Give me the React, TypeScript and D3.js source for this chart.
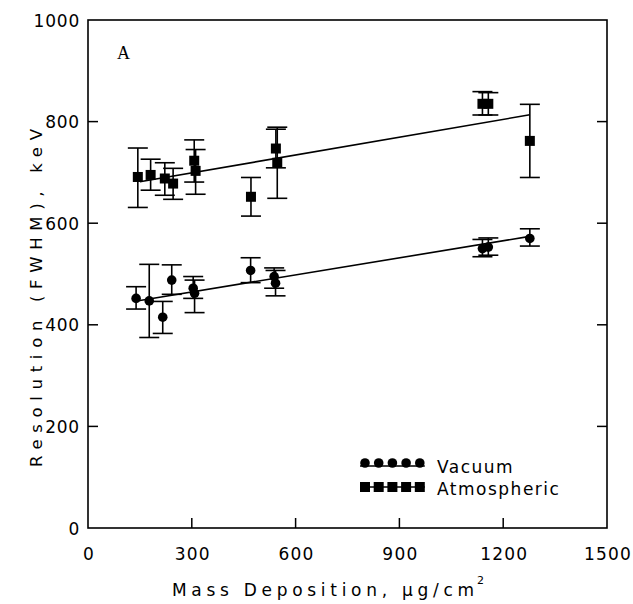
import React from "react";
import * as d3 from "d3";

// ---- data ----
// Vacuum series: mass deposition (µg/cm²), resolution (keV), error low, error high
const vacuumX = [139, 177, 216, 242, 304, 308, 470, 538, 542, 1140, 1157, 1277];
const vacuumY = [452, 447, 415, 488, 472, 462, 507, 495, 482, 550, 553, 570];
const vacuumLo = [431, 375, 383, 460, 452, 424, 483, 472, 457, 534, 537, 555];
const vacuumHi = [475, 519, 446, 518, 495, 488, 532, 512, 507, 568, 571, 589];

// Atmospheric series
const atmosX = [144, 181, 222, 246, 307, 311, 471, 543, 547, 1140, 1157, 1277];
const atmosY = [691, 695, 688, 678, 723, 703, 652, 747, 719, 835, 835, 762];
const atmosLo = [631, 665, 655, 647, 681, 657, 614, 709, 649, 813, 813, 690];
const atmosHi = [748, 726, 719, 708, 764, 745, 690, 785, 789, 859, 857, 834];

// Linear fits: [x start, x end], intercept, slope
const vacuumFitRange = [150, 1277];
const vacuumFitIntercept = 431;
const vacuumFitSlope = 0.112;
const atmosFitRange = [150, 1277];
const atmosFitIntercept = 664;
const atmosFitSlope = 0.117;

const xTicks = [0, 300, 600, 900, 1200, 1500];
const yTicks = [0, 200, 400, 600, 800, 1000];

const legendLabels = ["Vacuum", "Atmospheric"];

export default function App() {
  const W = 633;
  const H = 604;
  const left = 88, right = 607, top = 20, bottom = 528;
  const x = d3.scaleLinear().domain([0, 1500]).range([left, right]);
  const y = d3.scaleLinear().domain([0, 1000]).range([bottom, top]);
  const font = "'DejaVu Sans', 'Liberation Sans', sans-serif";
  const tickLen = 10;
  const capHalf = 10;
  const line = d3.line<[number, number]>().x((d) => x(d[0])).y((d) => y(d[1]));

  const fitPts = (range: number[], b: number, m: number): [number, number][] =>
    range.map((v) => [v, b + m * v] as [number, number]);

  const errBars = (xs: number[], lo: number[], hi: number[], key: string) =>
    xs.map((xv, i) => (
      <g key={key + i} stroke="#000" strokeWidth={1.6}>
        <line x1={x(xv)} x2={x(xv)} y1={y(lo[i])} y2={y(hi[i])} />
        <line x1={x(xv) - capHalf} x2={x(xv) + capHalf} y1={y(lo[i])} y2={y(lo[i])} />
        <line x1={x(xv) - capHalf} x2={x(xv) + capHalf} y1={y(hi[i])} y2={y(hi[i])} />
      </g>
    ));

  const legendX0 = 365;
  const legendStep = 13.7;
  const markerIdx = [0, 1, 2, 3, 4];

  return (
    <svg
      width={W}
      height={H}
      style={{ position: "absolute", left: 0, top: 0, background: "#fff" }}
    >
      <rect x={0} y={0} width={W} height={H} fill="#fff" />
      {/* frame */}
      <rect
        x={left}
        y={top}
        width={right - left}
        height={bottom - top}
        fill="none"
        stroke="#000"
        strokeWidth={1.6}
      />
      {/* y ticks (left and right, inward) */}
      {yTicks.map((t) => (
        <g key={"yt" + t}>
          {t > 0 && t < 1000 && (
            <>
              <line x1={left} x2={left + tickLen} y1={y(t)} y2={y(t)} stroke="#000" strokeWidth={1.5} />
              <line x1={right} x2={right - tickLen} y1={y(t)} y2={y(t)} stroke="#000" strokeWidth={1.5} />
            </>
          )}
          <text
            x={80}
            y={y(t) + 6.5}
            textAnchor="end"
            fontFamily={font}
            fontSize={17}
            letterSpacing={0.8}
            fill="#000"
          >
            {t}
          </text>
        </g>
      ))}
      {/* x ticks (bottom, inward) */}
      {xTicks.map((t) => (
        <g key={"xt" + t}>
          {t > 0 && t < 1500 && (
            <line x1={x(t)} x2={x(t)} y1={bottom} y2={bottom - tickLen} stroke="#000" strokeWidth={1.5} />
          )}
          <text
            x={x(t) + 1}
            y={560}
            textAnchor="middle"
            fontFamily={font}
            fontSize={17}
            letterSpacing={1.2}
            fill="#000"
          >
            {t}
          </text>
        </g>
      ))}
      {/* axis titles */}
      <text
        x={172}
        y={596}
        fontFamily={font}
        fontSize={17}
        textLength={302}
        lengthAdjust="spacing"
        fill="#000"
      >
        Mass Deposition, μg/cm
      </text>
      <text x={477} y={584} fontFamily={font} fontSize={11} fill="#000">
        2
      </text>
      <text
        transform="translate(42,298) rotate(-90)"
        textAnchor="middle"
        fontFamily={font}
        fontSize={16.5}
        textLength={338}
        lengthAdjust="spacing"
        fill="#000"
      >
        Resolution (FWHM), keV
      </text>
      <text x={117} y={59} fontFamily="'Liberation Serif', 'Times New Roman', serif" fontSize={18} fill="#000">
        A
      </text>

      {/* fit lines */}
      <path
        d={line(fitPts(vacuumFitRange, vacuumFitIntercept, vacuumFitSlope)) || ""}
        fill="none"
        stroke="#000"
        strokeWidth={1.6}
      />
      <path
        d={line(fitPts(atmosFitRange, atmosFitIntercept, atmosFitSlope)) || ""}
        fill="none"
        stroke="#000"
        strokeWidth={1.6}
      />

      {/* error bars */}
      {errBars(vacuumX, vacuumLo, vacuumHi, "ve")}
      {errBars(atmosX, atmosLo, atmosHi, "ae")}

      {/* markers */}
      {vacuumX.map((xv, i) => (
        <circle key={"vc" + i} cx={x(xv)} cy={y(vacuumY[i])} r={4.8} fill="#000" />
      ))}
      {atmosX.map((xv, i) => (
        <rect key={"as" + i} x={x(xv) - 5} y={y(atmosY[i]) - 5} width={10} height={10} fill="#000" />
      ))}

      {/* legend */}
      <line
        x1={legendX0 - 5}
        x2={legendX0 + legendStep * 4 + 5}
        y1={466}
        y2={466}
        stroke="#000"
        strokeWidth={1.5}
      />
      {markerIdx.map((k) => (
        <circle key={"lc" + k} cx={legendX0 + k * legendStep} cy={463} r={4.8} fill="#000" />
      ))}
      <text x={437} y={473} fontFamily={font} fontSize={17} letterSpacing={1.5} fill="#000">
        {legendLabels[0]}
      </text>
      <line
        x1={legendX0 - 5}
        x2={legendX0 + legendStep * 4 + 5}
        y1={487}
        y2={487}
        stroke="#000"
        strokeWidth={1.5}
      />
      {markerIdx.map((k) => (
        <rect key={"ls" + k} x={legendX0 + k * legendStep - 5} y={482} width={10} height={10} fill="#000" />
      ))}
      <text x={437} y={495} fontFamily={font} fontSize={17} letterSpacing={1.5} fill="#000">
        {legendLabels[1]}
      </text>
    </svg>
  );
}
